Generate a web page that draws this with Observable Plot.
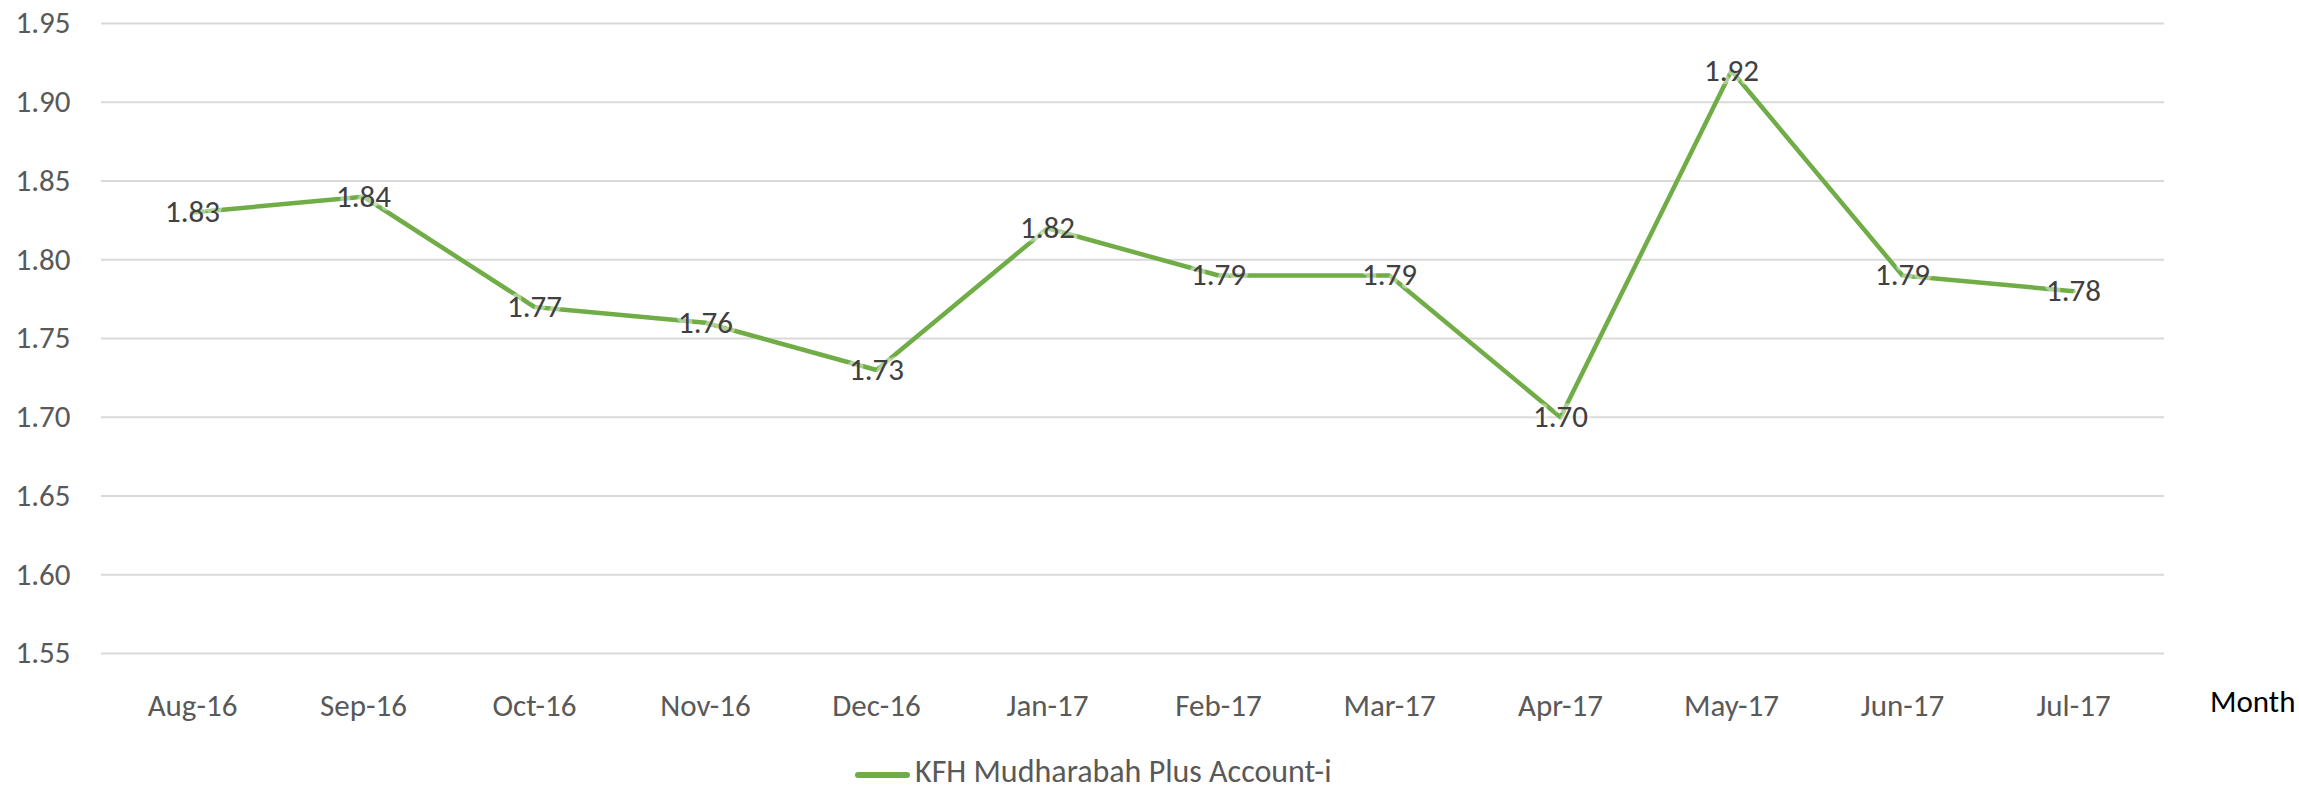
<!DOCTYPE html>
<html>
<head>
<meta charset="utf-8">
<script src="https://cdn.jsdelivr.net/npm/d3@7"></script>
<script src="https://cdn.jsdelivr.net/npm/@observablehq/plot@0.6"></script>
<style>
  html, body { margin: 0; padding: 0; background: #fff; overflow: hidden; }
  #chart { width: 2299px; }
  .legend { position: relative; height: 46px; font-family: Carlito, Lato, sans-serif; font-size: 32px; color: #595959; }
  .legend .sw { position: absolute; left: 855px; top: 27px; width: 55px; height: 6px; border-radius: 3px; background: #70AD47; }
  .legend .lb { position: absolute; left: 915px; top: 8px; height: 38px; line-height: 38px; white-space: nowrap; }
</style>
</head>
<body>
<div id="chart"></div>
<script>
const months = ["Aug-16","Sep-16","Oct-16","Nov-16","Dec-16","Jan-17","Feb-17","Mar-17","Apr-17","May-17","Jun-17","Jul-17"];
const rates = [1.83, 1.84, 1.77, 1.76, 1.73, 1.82, 1.79, 1.79, 1.70, 1.92, 1.79, 1.78];
const yTicks = [1.55, 1.60, 1.65, 1.70, 1.75, 1.80, 1.85, 1.90, 1.95];
const seriesName = "KFH Mudharabah Plus Account-i";
const xTitle = "Month";

const data = months.map((m, i) => ({month: m, rate: rates[i]}));
const lineColor = "#70AD47";

const plot = Plot.plot({
  width: 2299,
  height: 745,
  marginLeft: 101,
  marginRight: 135,
  marginTop: 23,
  marginBottom: 92,
  style: {fontFamily: "Carlito, Lato, sans-serif", fontSize: "31px", color: "#595959", background: "#fff"},
  x: {type: "point", domain: months, padding: 0.5},
  y: {domain: [1.55, 1.95]},
  marks: [
    Plot.gridY(yTicks, {stroke: "#d9d9d9", strokeOpacity: 1, strokeWidth: 2}),
    Plot.axisY({ticks: yTicks, tickSize: 0, tickPadding: 31, tickFormat: d => d.toFixed(2), label: null}),
    Plot.axisX({tickSize: 0, tickPadding: 40, label: null}),
    Plot.line(data, {x: "month", y: "rate", stroke: lineColor, strokeWidth: 4.5, strokeLinejoin: "round"}),
    Plot.text(data, {x: "month", y: "rate", text: d => d.rate.toFixed(2), fill: "#404040", stroke: "white", strokeOpacity: 0.45, strokeWidth: 7}),
    Plot.text([xTitle], {frameAnchor: "bottom-right", text: d => d, textAnchor: "end", dx: 131, dy: 58, fill: "#000"})
  ]
});
document.getElementById("chart").appendChild(plot);

const legend = document.createElement("div");
legend.className = "legend";
legend.innerHTML = `<span class="sw"></span><span class="lb"></span>`;
legend.querySelector(".lb").textContent = seriesName;
document.getElementById("chart").appendChild(legend);
</script>
</body>
</html>
